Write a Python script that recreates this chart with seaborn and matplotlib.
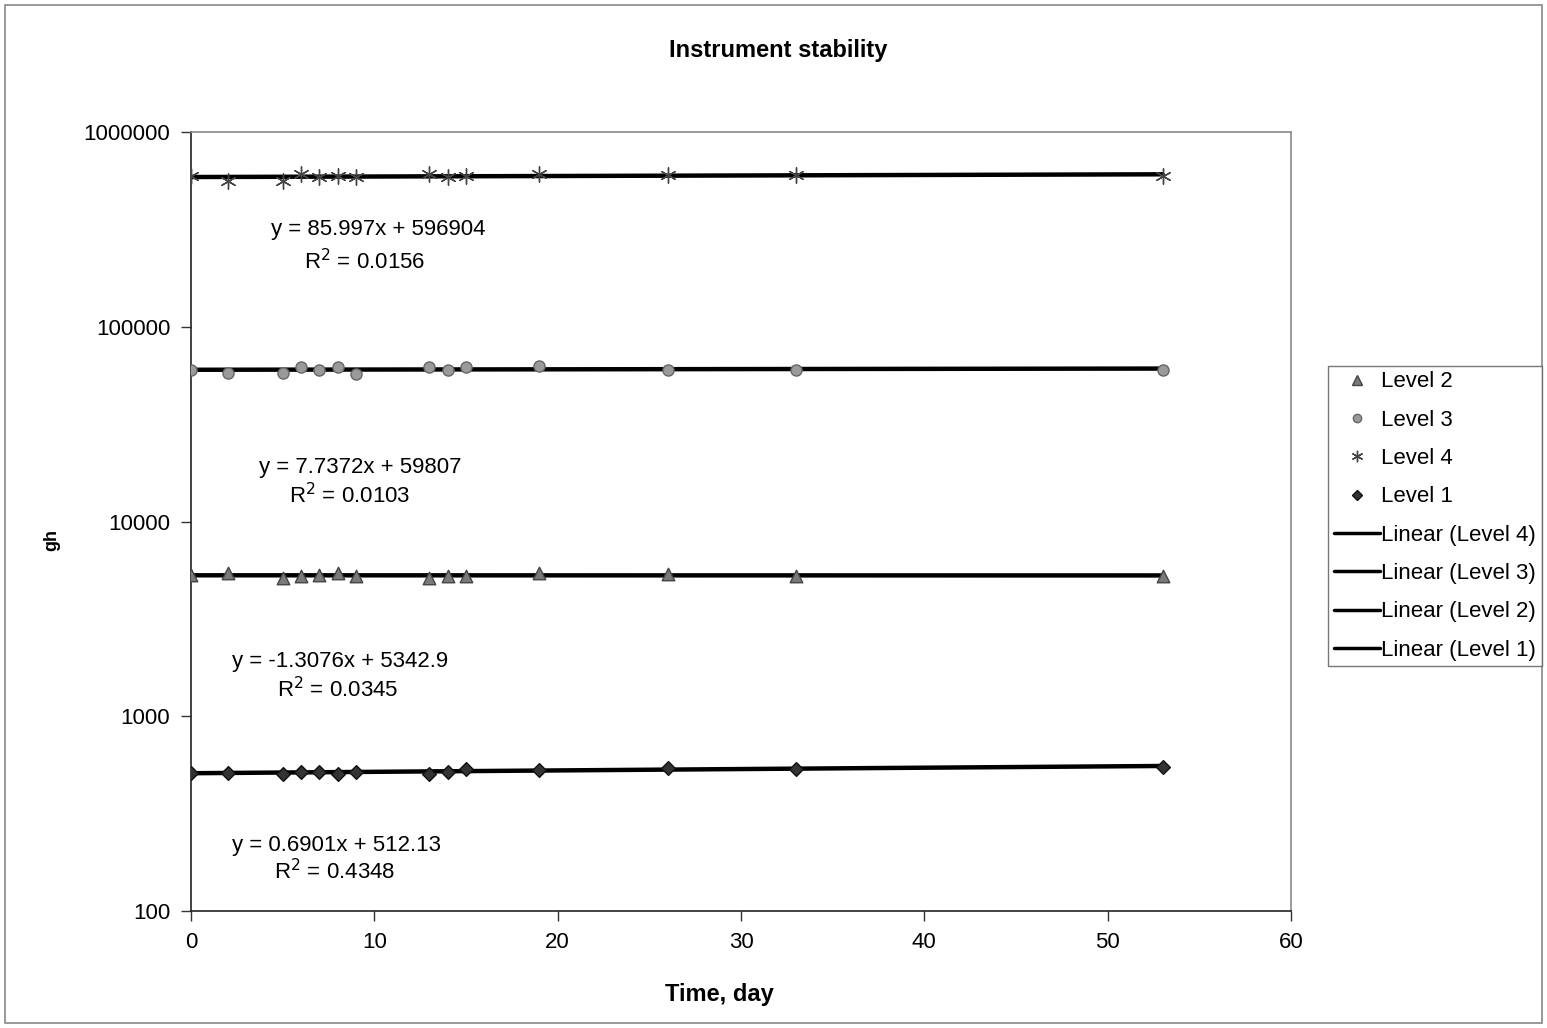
import matplotlib
matplotlib.use("Agg")
import matplotlib.pyplot as plt
import seaborn as sns
import numpy as np
import pandas as pd
from matplotlib.lines import Line2D
from matplotlib.patches import Rectangle

sns.set_theme(style="white")
plt.rcParams['font.family'] = ['Liberation Sans', 'DejaVu Sans']
plt.rcParams['text.color'] = 'black'
plt.rcParams['xtick.color'] = 'black'
plt.rcParams['ytick.color'] = 'black'
plt.rcParams['axes.labelcolor'] = 'black'

# ---- data ----
days = [0, 2, 5, 6, 7, 8, 9, 13, 14, 15, 19, 26, 33, 53]
level1 = [512, 512, 505, 520, 520, 505, 520, 505, 520, 537, 530, 545, 537, 550]
level2 = [5340, 5440, 5130, 5220, 5340, 5440, 5220, 5130, 5220, 5220, 5440, 5400, 5270, 5270]
level3 = [60000, 58000, 58000, 62000, 59800, 62500, 57500, 62000, 59800, 62500, 63000, 60000, 60000, 60200]
level4 = [597000, 560000, 560000, 610000, 585000, 597000, 585000, 610000, 590000, 597000, 610000, 601000, 600000, 595000]

x_ticks = [0, 10, 20, 30, 40, 50, 60]
y_ticks = [100, 1000, 10000, 100000, 1000000]

equations = [
    ("y = 85.997x + 596904", "R$^2$ = 0.0156", (378, 229), (365, 262)),
    ("y = 7.7372x + 59807", "R$^2$ = 0.0103", (360, 468), (350, 496)),
    ("y = -1.3076x + 5342.9", "R$^2$ = 0.0345", (340, 662), (338, 690)),
    ("y = 0.6901x + 512.13", "R$^2$ = 0.4348", (337, 845), (335, 872)),
]

W, H = 1547, 1028
fig = plt.figure(figsize=(W / 100, H / 100), dpi=100)
fig.patch.set_facecolor("white")
ax = fig.add_axes([191 / W, 1 - 911 / H, 1100 / W, 779 / H])

series = {
    "Level 2": (level2, "^", "#7a7a7a", "#444444", 9),
    "Level 3": (level3, "o", "#9a9a9a", "#666666", 8),
    "Level 4": (level4, (6, 2, 0), "#444444", "#444444", 11),
    "Level 1": (level1, "D", "#333333", "#111111", 7),
}

for name, (vals, mk, fc, ec, ms) in series.items():
    df = pd.DataFrame({"day": days, "val": vals})
    sns.scatterplot(data=df, x="day", y="val", ax=ax, marker=mk, s=ms ** 2,
                    color=fc, edgecolor=ec, linewidth=1.0, zorder=3, legend=False)

for name in ["Level 4", "Level 3", "Level 2", "Level 1"]:
    vals = series[name][0]
    df = pd.DataFrame({"day": days, "val": vals})
    sns.regplot(data=df, x="day", y="val", ax=ax, scatter=False, ci=None,
                truncate=True, color="black", line_kws={"lw": 3.2, "zorder": 2})

ax.set_yscale("log")
ax.set_xlim(0, 60)
ax.set_ylim(100, 1000000)
ax.set_xticks(x_ticks)
ax.set_xticklabels([str(t) for t in x_ticks])
ax.set_yticks(y_ticks)
ax.set_yticklabels([str(t) for t in y_ticks])
ax.yaxis.set_minor_locator(matplotlib.ticker.NullLocator())
ax.tick_params(axis="both", which="major", direction="out", length=7, width=1,
               color="#333333", labelsize=16, pad=8, left=True, bottom=True,
               labelcolor="black")
ax.set_xlabel("")
ax.set_ylabel("")
for side in ["left", "bottom"]:
    ax.spines[side].set_color("#222222")
    ax.spines[side].set_linewidth(1.2)
for side in ["top", "right"]:
    ax.spines[side].set_color("#8a8a8a")
    ax.spines[side].set_linewidth(1.2)
ax.set_facecolor("white")

# Title and axis labels
fig.text(778 / W, 1 - 50 / H, "Instrument stability", ha="center", va="center",
         fontsize=17, fontweight="bold", color="black")
fig.text(719 / W, 1 - 995 / H, "Time, day", ha="center", va="center",
         fontsize=17, fontweight="bold", color="black")
fig.text(52 / W, 1 - 540 / H, "gh", ha="center", va="center", rotation=90,
         fontsize=13, fontweight="bold", color="black")

# Trendline equations
for eq, r2, p1, p2 in equations:
    fig.text(p1[0] / W, 1 - p1[1] / H, eq, ha="center", va="center", fontsize=16,
             color="black")
    fig.text(p2[0] / W, 1 - p2[1] / H, r2, ha="center", va="center", fontsize=16,
             color="black")

# Legend
handles = []
labels = []
for name in ["Level 2", "Level 3", "Level 4", "Level 1"]:
    vals, mk, fc, ec, ms = series[name]
    handles.append(Line2D([], [], linestyle="none", marker=mk, markersize=ms * 0.75,
                          markerfacecolor=fc, markeredgecolor=ec))
    labels.append(name)
for name in ["Level 4", "Level 3", "Level 2", "Level 1"]:
    handles.append(Line2D([], [], color="black", lw=2.5))
    labels.append(f"Linear ({name})")
leg = fig.legend(handles, labels, loc="center left",
                 bbox_to_anchor=(1328 / W, 1 - 516 / H), fontsize=16,
                 frameon=True, fancybox=False, edgecolor="#555555",
                 handlelength=2.1, handletextpad=0.05, labelspacing=0.78,
                 borderpad=0.25, borderaxespad=0)
leg.get_frame().set_linewidth(1.0)
for t in leg.get_texts():
    t.set_color("black")

# Outer chart border
fig.patches.append(Rectangle((5 / W, 5 / H), 1 - 10 / W, 1 - 10 / H,
                             transform=fig.transFigure, fill=False,
                             edgecolor="#888888", lw=1.2))

fig.savefig("out.png", dpi=100, facecolor="white")
